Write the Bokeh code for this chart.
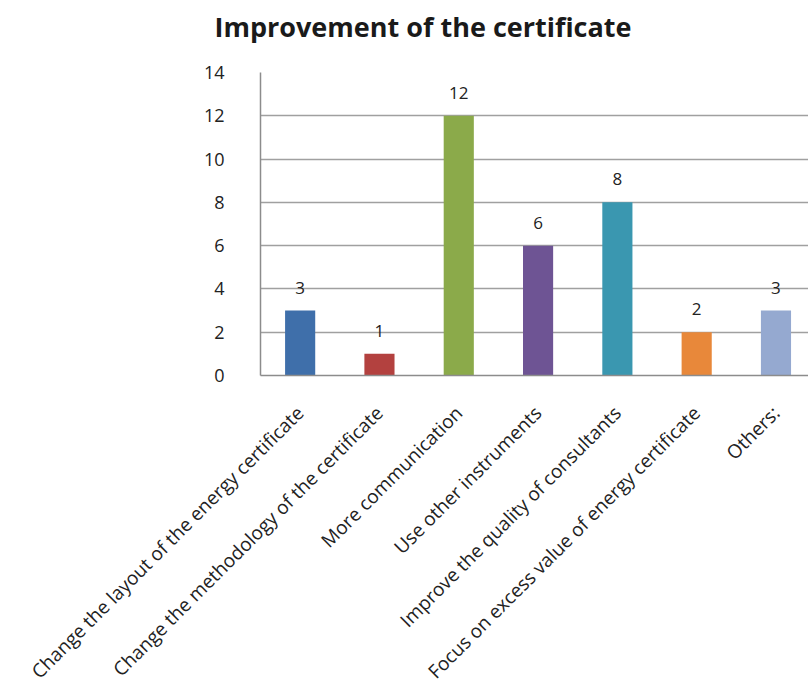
import math
from bokeh.plotting import figure
from bokeh.models import Range1d, FixedTicker, ColumnDataSource, Title
from bokeh.core.properties import value
from bokeh.embed import file_html
from bokeh.resources import INLINE

categories = [
    "Change the layout of the energy certificate",
    "Change the methodology of the certificate",
    "More communication",
    "Use other instruments",
    "Improve the quality of consultants",
    "Focus on excess value of energy certificate",
    "Others:",
]
counts = [3, 1, 12, 6, 8, 2, 3]
colors = ["#3F6FAA", "#B3413F", "#8BAA4A", "#6E5494", "#3A97B0", "#E8883A", "#95A9D0"]
y_ticks = [0, 2, 4, 6, 8, 10, 12, 14]

FONT = "Open Sans"

positions = list(range(len(categories)))
src = ColumnDataSource(dict(x=positions, top=counts, color=colors,
                            label=[str(c) for c in counts]))

p = figure(width=808, height=696, output_backend="svg", toolbar_location=None,
           x_range=Range1d(-0.5, 6.41), y_range=Range1d(0, 14),
           min_border_left=260, min_border_right=0, min_border_top=72,
           min_border_bottom=319)
p.title = None
spacer = Title(text=" ", text_font_size="2px", standoff=24)
p.add_layout(spacer, "above")
t = Title(text="Improvement of the certificate", align="left", offset=-46,
          text_font=FONT, text_font_size="27px", text_font_style="bold",
          text_color="#1a1a1a", standoff=0)
p.add_layout(t, "above")

p.outline_line_color = None
p.background_fill_color = "white"

p.vbar(x="x", top="top", width=0.38, color="color", source=src, line_color=None)
p.text(x="x", y="top", text="label", source=src, text_align="center",
       text_baseline="middle", y_offset=-23, text_font=value(FONT),
       text_font_size="17px", text_color="#222222")

# y axis
p.yaxis.ticker = FixedTicker(ticks=y_ticks)
p.yaxis.major_tick_line_color = None
p.yaxis.minor_tick_line_color = None
p.yaxis.axis_line_color = "#8c8c8c"
p.yaxis.axis_line_width = 1.5
p.yaxis.major_label_standoff = 30
p.yaxis.major_label_text_font = FONT
p.yaxis.major_label_text_font_size = "18px"
p.yaxis.major_label_text_color = "#222222"

# x axis
p.xaxis.ticker = FixedTicker(ticks=positions)
p.xaxis.major_label_overrides = {i: c for i, c in enumerate(categories)}
p.xaxis.major_label_orientation = math.pi / 4
p.xaxis.major_tick_line_color = None
p.xaxis.minor_tick_line_color = None
p.xaxis.axis_line_color = "#8c8c8c"
p.xaxis.axis_line_width = 1.5
p.xaxis.major_label_standoff = 28
p.xaxis.major_label_text_font = FONT
p.xaxis.major_label_text_font_size = "19px"
p.xaxis.major_label_text_color = "#222222"

p.xgrid.grid_line_color = None
p.ygrid.ticker = FixedTicker(ticks=y_ticks)
p.ygrid.grid_line_color = "#a0a0a0"
p.ygrid.grid_line_width = 1.5

open("out.html", "w").write(file_html(p, INLINE))
